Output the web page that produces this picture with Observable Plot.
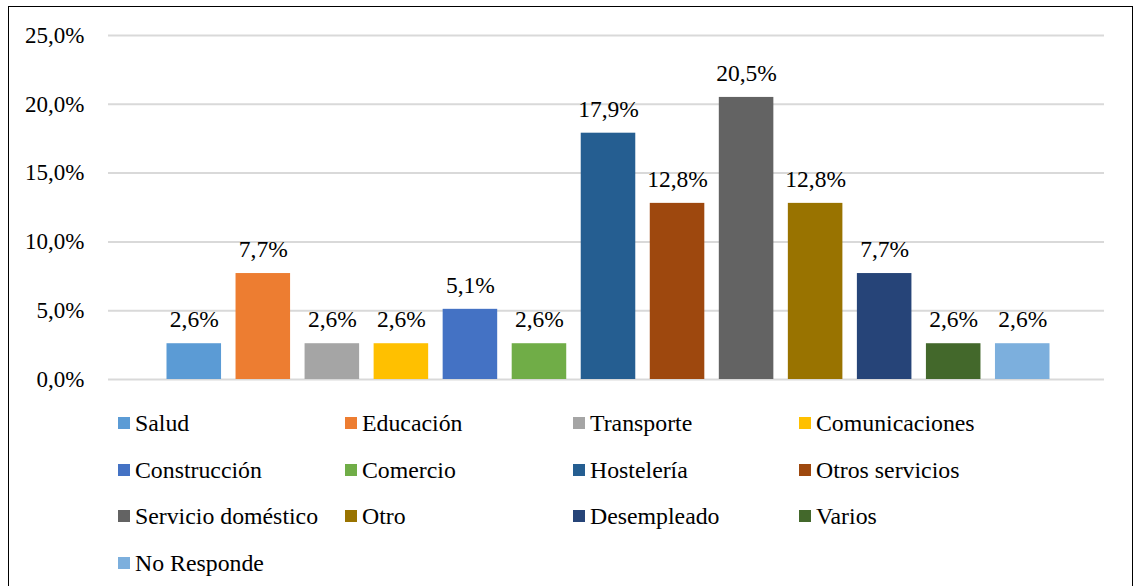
<!DOCTYPE html>
<html>
<head>
<meta charset="utf-8">
<script src="https://cdn.jsdelivr.net/npm/d3@7"></script>
<script src="https://cdn.jsdelivr.net/npm/@observablehq/plot@0.6"></script>
<style>
  html, body { margin: 0; padding: 0; background: #fff; }
  body { width: 1135px; height: 586px; position: relative; overflow: hidden; font-family: "Liberation Serif", "Times New Roman", serif; }
  #frame { position: absolute; left: 8px; top: 6px; width: 1125px; height: 600px; border: 1.5px solid #000; box-sizing: border-box; }
  #chart { position: absolute; left: 0; top: 0; }
  .lg { position: absolute; display: flex; align-items: center; font-size: 23.8px; color: #000; white-space: nowrap; height: 30px; }
  .sw { width: 12px; height: 12px; margin-right: 5px; flex: none; }
</style>
</head>
<body>
<div id="frame"></div>
<div id="chart"></div>
<div id="legend"></div>
<script>
const categories = ["Salud", "Educación", "Transporte", "Comunicaciones", "Construcción", "Comercio", "Hostelería", "Otros servicios", "Servicio doméstico", "Otro", "Desempleado", "Varios", "No Responde"];
const values = [2.6, 7.7, 2.6, 2.6, 5.1, 2.6, 17.9, 12.8, 20.5, 12.8, 7.7, 2.6, 2.6];
const colors = ["#5b9bd5", "#ed7d31", "#a5a5a5", "#ffc000", "#4472c4", "#70ad47", "#255e91", "#9e480e", "#636363", "#997300", "#264478", "#43682b", "#7cafdd"];
const yTicks = [0, 5, 10, 15, 20, 25];

const data = categories.map((c, i) => ({cat: c, value: values[i]}));
const fmt = v => v.toFixed(1).replace(".", ",") + "%";

const chart = Plot.plot({
  width: 1135,
  height: 400,
  marginLeft: 108,
  marginRight: 31,
  marginTop: 35,
  marginBottom: 21,
  style: {fontFamily: "'Liberation Serif', 'Times New Roman', serif", fontSize: "23px", color: "#000", background: "transparent"},
  x: {domain: categories, padding: 0.21, round: false, insetLeft: 44, insetRight: 40, axis: null},
  y: {domain: [0, 25], label: null},
  color: {domain: categories, range: colors},
  marks: [
    Plot.gridY(yTicks, {stroke: "#d9d9d9", strokeOpacity: 1, strokeWidth: 2}),
    Plot.axisY(yTicks, {tickSize: 0, tickPadding: 24, tickFormat: fmt, fill: "#000", label: null}),
    Plot.barY(data, {x: "cat", y: "value", fill: "cat"}),
    Plot.text(data, {x: "cat", y: "value", text: d => fmt(d.value), dy: -24, fill: "#000", fontSize: 23.5})
  ]
});
document.getElementById("chart").appendChild(chart);

const legend = document.getElementById("legend");
const colX = [118, 345, 573, 799];
const rowY = [423, 470, 516, 563];
categories.forEach((c, i) => {
  const el = document.createElement("div");
  el.className = "lg";
  el.style.left = colX[i % 4] + "px";
  el.style.top = (rowY[Math.floor(i / 4)] - 15) + "px";
  const sw = document.createElement("span");
  sw.className = "sw";
  sw.style.background = colors[i];
  el.appendChild(sw);
  el.appendChild(document.createTextNode(c));
  legend.appendChild(el);
});
</script>
</body>
</html>
